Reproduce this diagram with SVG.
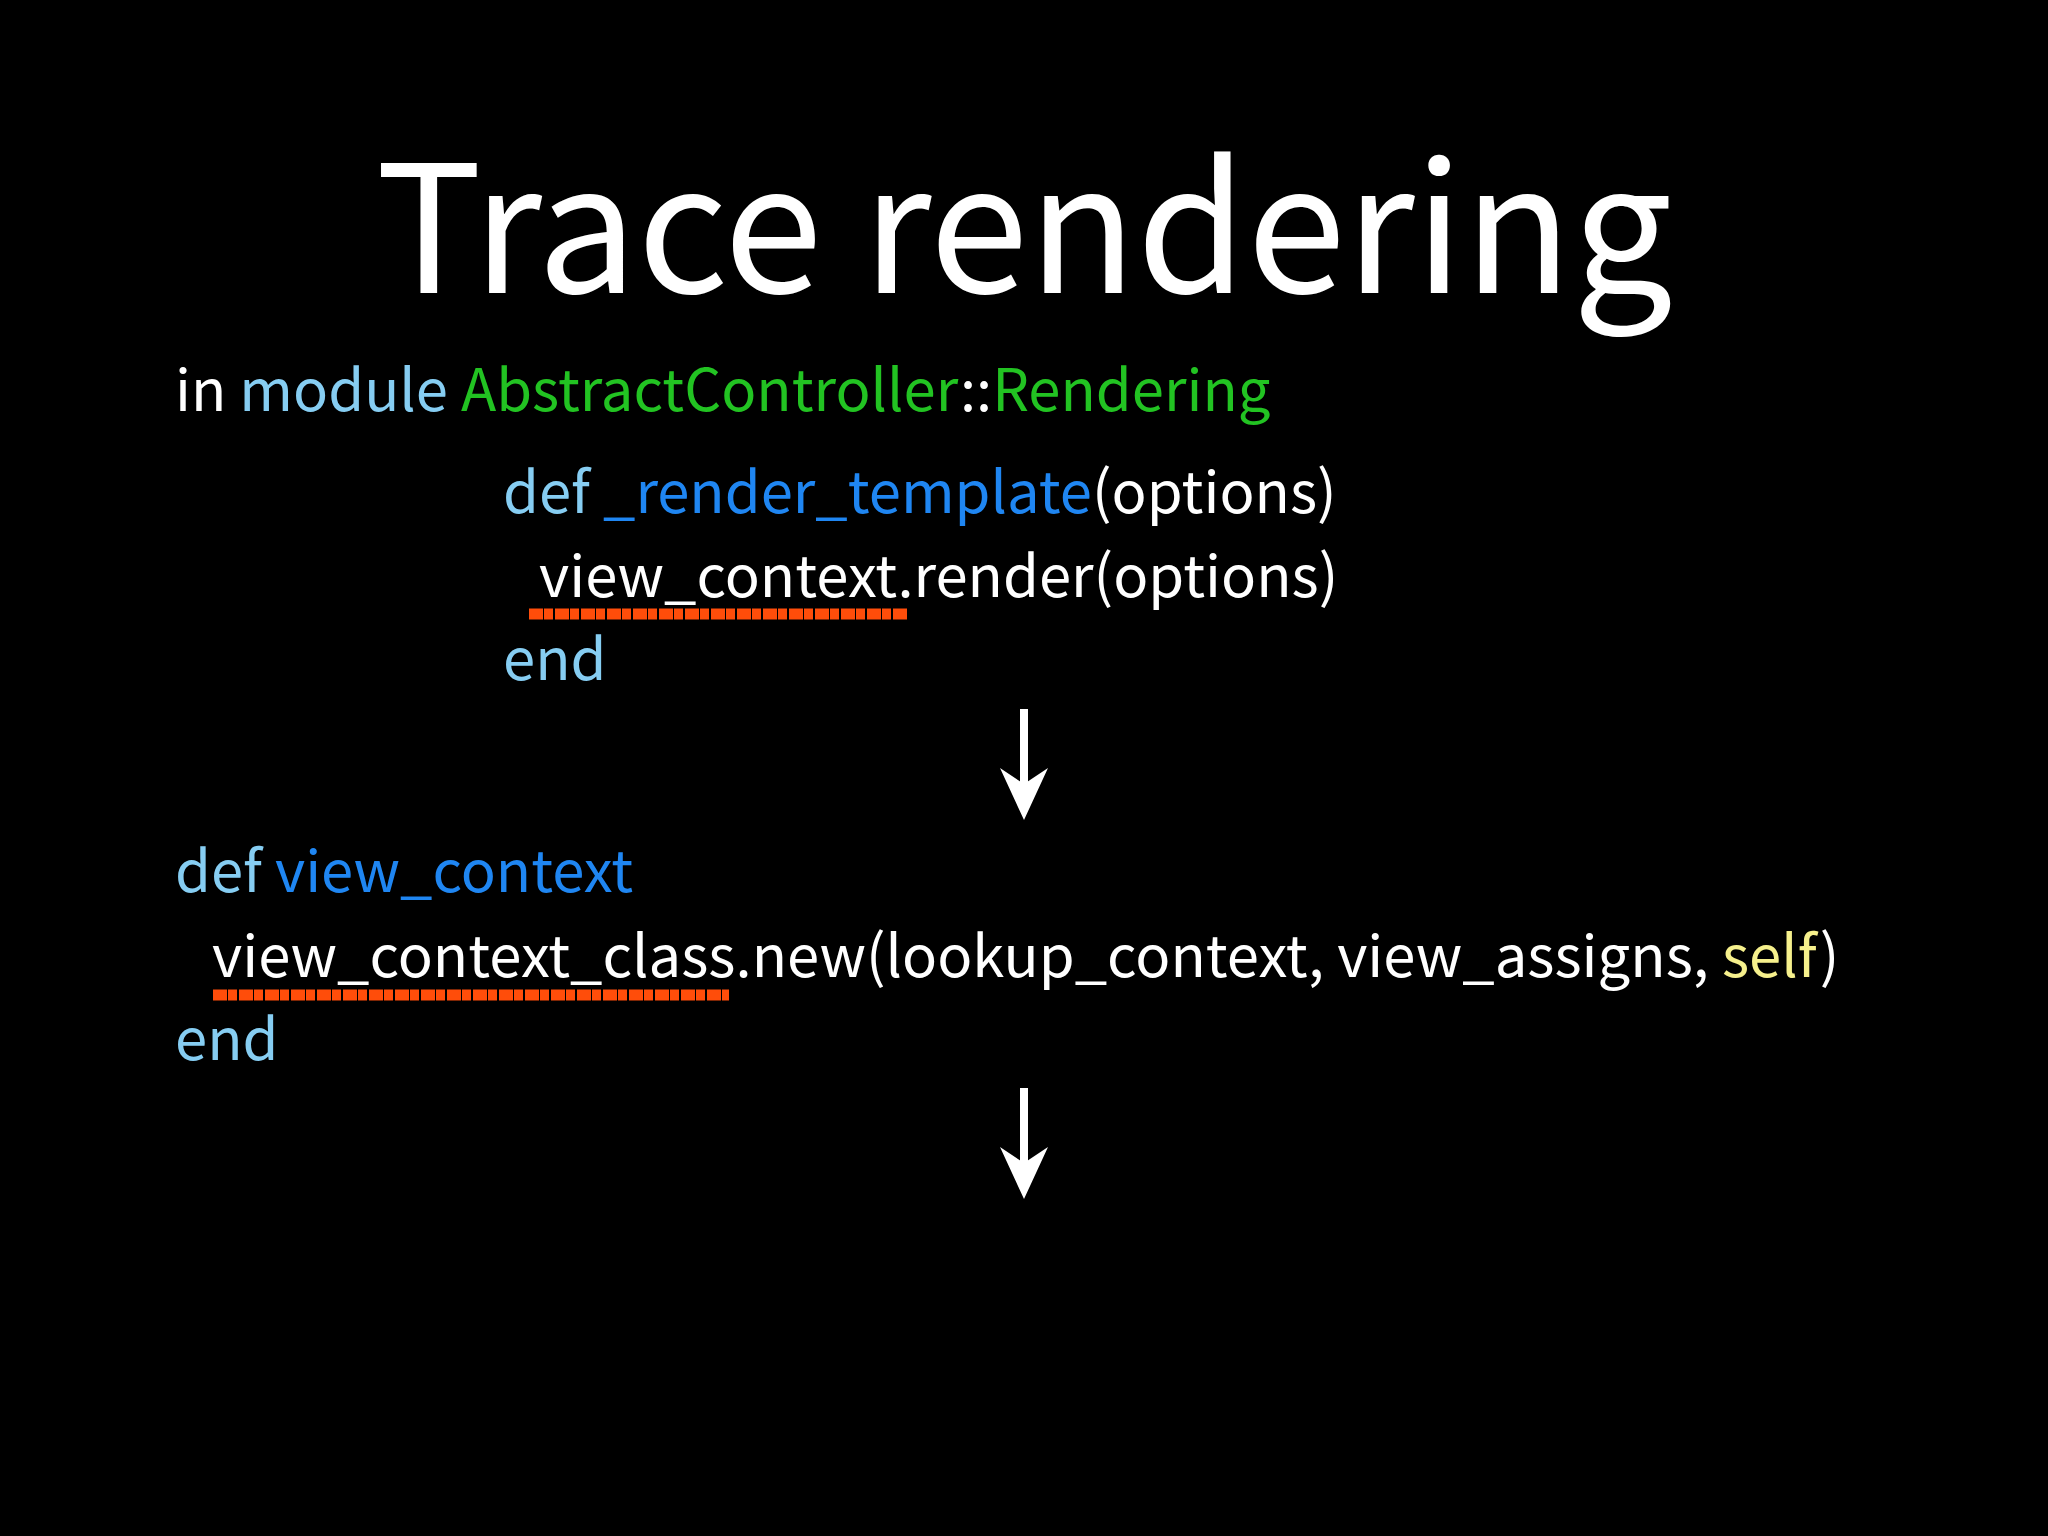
<svg xmlns="http://www.w3.org/2000/svg" width="2048" height="1536" viewBox="0 0 2048 1536">
<style>
.t{font-family:"Noto Sans CJK JP","Noto Sans",sans-serif;fill:#fff}
.c{font-family:"Noto Sans CJK JP","Noto Sans",sans-serif;font-size:58px;fill:#fff}
.lb{fill:#86cdf2}.bl{fill:#1f86f2}.gr{fill:#22c322}.ye{fill:#f6f08c}
.u{stroke:#ff4d0a;stroke-width:11;fill:none;stroke-dasharray:14 1 9 2}
.a{stroke:#fff;stroke-width:8}
</style>
<rect width="2048" height="1536" fill="#000"/>
<text class="t" x="1024" y="293" font-size="178" text-anchor="middle">Trace rendering</text>
<g id="code1">
<text class="c" x="175" y="411">in <tspan class="lb">module</tspan> <tspan class="gr">AbstractController</tspan>::<tspan class="gr">Rendering</tspan></text>
<text class="c" x="503" y="513"><tspan class="lb">def</tspan> <tspan class="bl">_render_template</tspan>(options)</text>
<text class="c" x="539" y="597">view_context.render(options)</text>
<text class="c lb" x="503" y="680">end</text>
</g>
<g id="code2">
<text class="c" x="175" y="892"><tspan class="lb">def</tspan> <tspan class="bl">view_context</tspan></text>
<text class="c" x="212" y="977">view_context_class.new(lookup_context, view_assigns, <tspan class="ye">self</tspan>)</text>
<text class="c lb" x="175" y="1060">end</text>
</g>
<g id="connectors">
<path class="u" d="M529 614 L908 614"/>
<path class="u" d="M213 995 L729 995"/>
<line class="a" x1="1024" y1="709" x2="1024" y2="800"/>
<polygon points="1000,768 1024,820 1048,768 1024,784" fill="#fff"/>
<line class="a" x1="1024" y1="1088" x2="1024" y2="1180"/>
<polygon points="1000,1147 1024,1199 1048,1147 1024,1163" fill="#fff"/>
</g>
</svg>
